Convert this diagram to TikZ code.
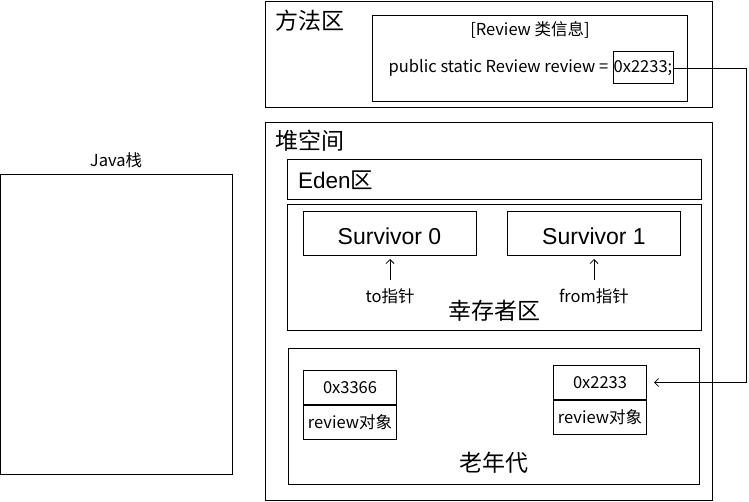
\documentclass[tikz,border=0pt]{standalone}
\usepackage{fontspec}
\setmainfont{Noto Sans CJK SC}
\newfontfamily\arialfont{Liberation Sans}
\usetikzlibrary{arrows.meta}

\tikzset{
  region/.style={draw, line width=1pt, anchor=north west, inner sep=0pt},
  cell/.style={draw, line width=1pt, minimum width=93, minimum height=34, inner sep=0pt, font=\fontsize{16.5}{16.5}\selectfont},
  big/.style={inner sep=0pt, font=\fontsize{23}{23}\selectfont},
  small/.style={inner sep=0pt, font=\fontsize{16.5}{16.5}\selectfont},
  surv/.style={draw, line width=1pt, minimum width=173, minimum height=44, inner sep=0pt, text height=22pt, text depth=0pt, font=\fontsize{23}{23}\selectfont\arialfont},
  pointer/.style={-{Straight Barb[length=4pt,width=8pt]}, line width=0.8pt}
}

\begin{document}
\begin{tikzpicture}[x=1pt,y=-1pt]
\useasboundingbox (0,0) rectangle (749,502);

% Java stack
\node[region, minimum width=232, minimum height=300] (stack) at (0,174) {};
\node[small] (stackname) at (116,160) {Java栈};

% method area
\node[region, minimum width=447, minimum height=106] (method) at (265,1) {};
\node[big, anchor=west] (methodname) at (275,21) {方法区};
\node[region, minimum width=315, minimum height=86] (classinfo) at (372,15) {};
\node[small] (classname) at (530,30) {[Review 类信息]};
\node[draw, line width=1pt, minimum width=60, minimum height=32, inner sep=1pt, small] (ref) at (643,68) {0x2233;};
\node[small, anchor=east, inner sep=4pt] (decl) at (ref.west) {public static Review review =};

% heap
\node[region, minimum width=447, minimum height=378] (heap) at (265,122) {};
\node[big, anchor=west] (heapname) at (275,141) {堆空间};
\node[region, minimum width=414, minimum height=40] (eden) at (287,159) {};
\node[anchor=west, inner sep=0pt, font=\fontsize{22.5}{22.5}\selectfont] (edenname) at (298,180) {{\arialfont Eden}区};

\node[region, minimum width=414, minimum height=126] (survivors) at (287,204) {};
\node[surv] (s0) at (389.5,233.5) {Survivor 0};
\node[surv] (s1) at (594,233.5) {Survivor 1};
\node[small] (to) at (390,296) {to指针};
\node[small] (from) at (594,296) {from指针};
\draw[pointer, shorten <=8pt, shorten >=3pt] (to.north) -- (to.north |- s0.south);
\draw[pointer, shorten <=8pt, shorten >=3pt] (from.north) -- (from.north |- s1.south);
\node[big] (survname) at (494,311) {幸存者区};

% old generation
\node[region, minimum width=411, minimum height=136] (old) at (288,348) {};
\node[cell, anchor=north west] (obj1addr) at (303,370) {0x3366};
\node[cell, anchor=north] (obj1) at (obj1addr.south) {review对象};
\node[cell, anchor=north west] (obj2addr) at (553,365) {0x2233};
\node[cell, anchor=north] (obj2) at (obj2addr.south) {review对象};
\node[big] (oldname) at (494,463) {老年代};

% reference to the object
\coordinate (rail) at (746,0);
\draw[pointer, shorten >=7pt] (ref.east) -- (ref.east -| rail) |- (obj2addr.east);

\end{tikzpicture}
\end{document}
